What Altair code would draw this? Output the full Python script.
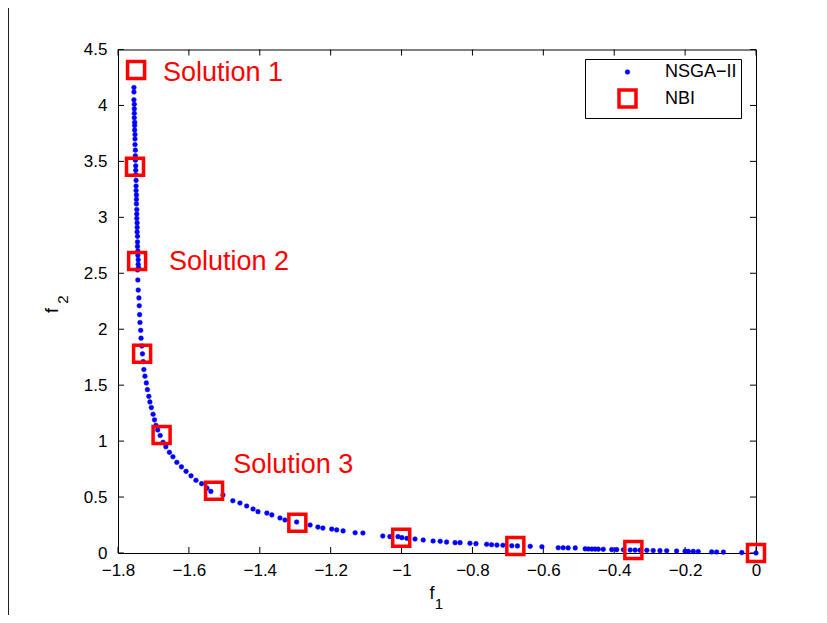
import altair as alt
import pandas as pd

# ---------------- data ----------------
nsga_f1 = [
    -1.755, -1.755, -1.755, -1.754, -1.754, -1.754, -1.754, -1.753, -1.753, -1.753,
    -1.752, -1.752, -1.752, -1.751, -1.751, -1.751, -1.750, -1.750, -1.750, -1.749,
    -1.749, -1.749, -1.748, -1.748, -1.748, -1.747, -1.747, -1.747, -1.746, -1.746,
    -1.746, -1.745, -1.745, -1.745, -1.744, -1.744, -1.743, -1.743, -1.742,
    -1.745, -1.744, -1.743, -1.741, -1.740, -1.739, -1.738, -1.736, -1.735, -1.733,
    -1.731, -1.729, -1.727, -1.724, -1.720, -1.717, -1.713, -1.710, -1.706, -1.701,
    -1.697, -1.693, -1.688, -1.681, -1.673, -1.665, -1.655, -1.645, -1.634, -1.621,
    -1.608, -1.594, -1.580, -1.564, -1.549, -1.538,
    -1.504, -1.476, -1.456, -1.437, -1.419, -1.405, -1.380, -1.366, -1.343, -1.329,
    -1.296, -1.258, -1.236, -1.222, -1.197, -1.183, -1.165, -1.131, -1.109, -1.053,
    -1.033, -1.010,
    -0.999, -0.985, -0.962, -0.939, -0.911, -0.891, -0.873, -0.849, -0.835, -0.807,
    -0.790, -0.760, -0.746, -0.731, -0.714, -0.689, -0.673, -0.637, -0.604, -0.558,
    -0.544, -0.530, -0.510,
    -0.482, -0.473, -0.463, -0.454, -0.445, -0.431, -0.407, -0.393, -0.374, -0.355,
    -0.341, -0.327, -0.308, -0.290, -0.271, -0.252, -0.224, -0.200, -0.191, -0.177,
    -0.163, -0.125, -0.111, -0.092, -0.040, 0.000,
]
nsga_f2 = [
    4.16, 4.12, 4.05, 4.01, 3.97, 3.93, 3.89, 3.85, 3.82, 3.78,
    3.74, 3.70, 3.65, 3.60, 3.55, 3.51, 3.46, 3.42, 3.38, 3.33,
    3.28, 3.24, 3.20, 3.16, 3.12, 3.07, 3.03, 2.99, 2.95, 2.91,
    2.87, 2.83, 2.78, 2.74, 2.70, 2.66, 2.62, 2.58, 2.55,
    2.53, 2.44, 2.35, 2.28, 2.21, 2.13, 2.06, 1.99, 1.92, 1.85,
    1.78, 1.71, 1.64, 1.58, 1.52, 1.46, 1.40, 1.35, 1.30, 1.24,
    1.19, 1.14, 1.10, 1.05, 0.99, 0.95, 0.90, 0.86, 0.81, 0.77,
    0.73, 0.69, 0.65, 0.62, 0.58, 0.55,
    0.518, 0.467, 0.447, 0.420, 0.393, 0.369, 0.357, 0.340, 0.313, 0.295,
    0.277, 0.250, 0.232, 0.223, 0.214, 0.206, 0.197, 0.181, 0.179, 0.152,
    0.146, 0.146,
    0.137, 0.131, 0.125, 0.116, 0.107, 0.105, 0.098, 0.092, 0.092, 0.087,
    0.083, 0.078, 0.074, 0.071, 0.069, 0.065, 0.063, 0.060, 0.056, 0.047,
    0.047, 0.045, 0.045,
    0.037, 0.036, 0.035, 0.035, 0.034, 0.033, 0.031, 0.030, 0.029, 0.027,
    0.026, 0.025, 0.024, 0.022, 0.021, 0.020, 0.018, 0.016, 0.015, 0.014,
    0.013, 0.010, 0.009, 0.008, 0.004, 0.000,
]
nbi_f1 = [-1.749, -1.752, -1.746, -1.732, -1.677, -1.529, -1.294, -1.001, -0.679, -0.346, 0.0]
nbi_f2 = [4.316, 3.452, 2.610, 1.781, 1.055, 0.557, 0.271, 0.137, 0.063, 0.027, 0.0]

series_names = ["NSGA\u2212II", "NBI"]

sol_labels = ["Solution 1", "Solution 2", "Solution 3"]
sol_f1 = [-1.673, -1.656, -1.475]
sol_f2 = [4.29, 2.60, 0.786]

x_ticks = [-1.8, -1.6, -1.4, -1.2, -1.0, -0.8, -0.6, -0.4, -0.2, 0.0]
y_ticks = [0, 0.5, 1, 1.5, 2, 2.5, 3, 3.5, 4, 4.5]

# ---------------- build tables ----------------
pts = pd.DataFrame({
    "f1": nsga_f1 + nbi_f1,
    "f2": nsga_f2 + nbi_f2,
    "series": [series_names[0]] * len(nsga_f1) + [series_names[1]] * len(nbi_f1),
})
sol = pd.DataFrame({"f1": sol_f1, "f2": sol_f2, "label": sol_labels})
xt = pd.DataFrame({"v": x_ticks})
yt = pd.DataFrame({"v": y_ticks})
one = pd.DataFrame({"k": [0]})

FONT = "Liberation Sans"
W, H = 638, 503.5

xscale = alt.Scale(domain=[-1.8, 0], nice=False, zero=False)
yscale = alt.Scale(domain=[0, 4.5], nice=False, zero=False)

xaxis = alt.Axis(values=x_ticks, format="~g", title=None, grid=False, domain=False,
                 ticks=False, labelPadding=9, labelFontSize=17, labelFont=FONT,
                 labelColor="black", labelFlush=False)
yaxis = alt.Axis(values=y_ticks, format="~g", title=None, grid=False, domain=False,
                 ticks=False, labelPadding=11, labelFontSize=17, labelFont=FONT,
                 labelColor="black", labelFlush=False)

points = alt.Chart(pts).mark_point(opacity=1).encode(
    x=alt.X("f1:Q", scale=xscale, axis=xaxis),
    y=alt.Y("f2:Q", scale=yscale, axis=yaxis),
    shape=alt.Shape("series:N", scale=alt.Scale(domain=series_names, range=["circle", "square"]), title=None),
    size=alt.Size("series:N", scale=alt.Scale(domain=series_names, range=[22, 289]), title=None),
    stroke=alt.Stroke("series:N", scale=alt.Scale(domain=series_names, range=["#0000ff", "#ff0000"]), title=None),
    fill=alt.Fill("series:N", scale=alt.Scale(domain=series_names, range=["#0000ff", "rgba(255,255,255,0)"]), title=None),
    strokeWidth=alt.StrokeWidth("series:N", scale=alt.Scale(domain=series_names, range=[0.5, 3.5]), title=None),
)

labels = alt.Chart(sol).mark_text(align="left", baseline="middle", fontSize=27,
                                  font=FONT, color="#ff0000").encode(
    x=alt.X("f1:Q", scale=xscale), y=alt.Y("f2:Q", scale=yscale), text="label:N")

tick_len = 6
xt_bot = alt.Chart(xt).mark_rule(color="black", strokeWidth=1).encode(
    x=alt.X("v:Q", scale=xscale), y=alt.value(H), y2=alt.value(H - tick_len))
xt_top = alt.Chart(xt).mark_rule(color="black", strokeWidth=1).encode(
    x=alt.X("v:Q", scale=xscale), y=alt.value(0), y2=alt.value(tick_len))
yt_left = alt.Chart(yt).mark_rule(color="black", strokeWidth=1).encode(
    y=alt.Y("v:Q", scale=yscale), x=alt.value(0), x2=alt.value(tick_len))
yt_right = alt.Chart(yt).mark_rule(color="black", strokeWidth=1).encode(
    y=alt.Y("v:Q", scale=yscale), x=alt.value(W), x2=alt.value(W - tick_len))

# axis titles with subscripts (f_1, f_2)
t_x1 = alt.Chart(one).mark_text(text="f", fontSize=18, font=FONT, color="black").encode(
    x=alt.value(314), y=alt.value(544))
t_x2 = alt.Chart(one).mark_text(text="1", fontSize=15, font=FONT, color="black").encode(
    x=alt.value(321), y=alt.value(554))
t_y1 = alt.Chart(one).mark_text(text="f", fontSize=18, font=FONT, color="black", angle=270).encode(
    x=alt.value(-65), y=alt.value(261))
t_y2 = alt.Chart(one).mark_text(text="2", fontSize=15, font=FONT, color="black", angle=270).encode(
    x=alt.value(-55), y=alt.value(250))

# thin frame line on the left edge of the page (as in the scan)
border = alt.Chart(one).mark_rule(color="#222222", strokeWidth=1).encode(
    x=alt.value(-109.5), x2=alt.value(-109.5), y=alt.value(-41.5), y2=alt.value(566))

chart = alt.layer(
    border, xt_bot, xt_top, yt_left, yt_right, points, labels, t_x1, t_x2, t_y1, t_y2
).properties(
    width=W, height=H,
    autosize=alt.AutoSizeParams(type="none"),
    padding={"left": 110, "top": 41.5, "right": 55, "bottom": 62},
    background="white",
).configure_view(
    stroke="black", strokeWidth=1
).configure_legend(
    orient="none", legendX=467, legendY=9.5,
    strokeColor="black", fillColor="white", padding=4, cornerRadius=0,
    labelFont=FONT, labelFontSize=18, labelColor="black",
    symbolOffset=28, labelOffset=27, rowPadding=2,
)

chart.save("out.html", embed_options={"renderer": "svg", "actions": False})
